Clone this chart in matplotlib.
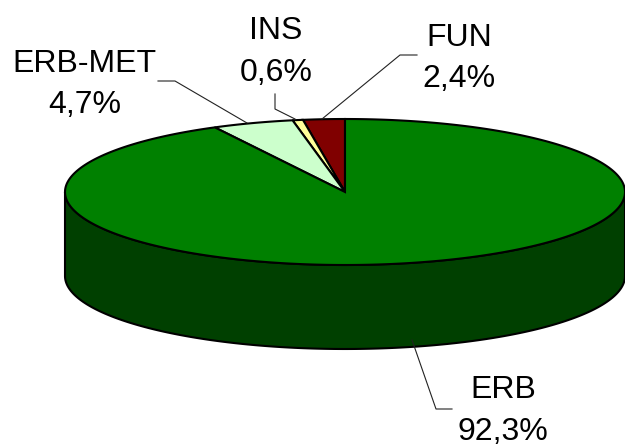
import numpy as np
import matplotlib
matplotlib.use("Agg")
import matplotlib.pyplot as plt

plt.rcParams['font.family'] = ['Liberation Sans', 'DejaVu Sans']

# data, starting at 12 o'clock and going counter-clockwise
categories = ["FUN", "INS", "ERB-MET", "ERB"]
values = [2.4, 0.6, 4.7, 92.3]
value_labels = ["2,4%", "0,6%", "4,7%", "92,3%"]
top_colors = ["#800000", "#FFFF99", "#CCFFCC", "#008000"]
side_color = "#004000"

# pie geometry in pixels
cx, cy = 345, 192
a, b = 280, 73
depth = 84

fig = plt.figure(figsize=(6.25, 4.46), dpi=100)
ax = fig.add_axes([0, 0, 1, 1])
ax.set_xlim(0, 625)
ax.set_ylim(446, 0)
ax.axis("off")

# side wall
t = np.linspace(0, np.pi, 200)
xs = cx + a * np.cos(t)
ys = cy + b * np.sin(t)
ax.fill(np.r_[xs, xs[::-1]], np.r_[ys, ys[::-1] + depth],
        facecolor=side_color, edgecolor="k", lw=1.5, zorder=1)

# top slices
start = 0.0
for v, c in zip(values, top_colors):
    end = start + v / sum(values) * 2 * np.pi
    ang = np.linspace(start, end, max(int(v * 4), 6))
    px = np.r_[cx, cx - a * np.sin(ang)]
    py = np.r_[cy, cy - b * np.cos(ang)]
    ax.fill(px, py, facecolor=c, edgecolor="k", lw=1.5, joinstyle="miter", zorder=2)
    start = end

# leader lines
ax.plot([322, 400, 417], [119, 55, 55], color="#222222", lw=0.8, zorder=3)
ax.plot([295, 275, 275], [119, 109, 94], color="#222222", lw=0.8, zorder=3)
ax.plot([247, 175, 158], [123, 81, 81], color="#222222", lw=0.8, zorder=3)
ax.plot([412, 436, 452], [340, 409, 409], color="#222222", lw=0.8, zorder=3)

# labels: x centre, name baseline, percent baseline
label_pos = {"FUN": (459, 46, 87), "INS": (276, 39, 81),
             "ERB-MET": (84.5, 72, 113), "ERB": (503, 398, 440)}
for name, pct in zip(categories, value_labels):
    x, y1, y2 = label_pos[name]
    ax.text(x, y1, name, fontsize=23, ha="center", va="baseline", color="k")
    ax.text(x, y2, pct, fontsize=23, ha="center", va="baseline", color="k")

fig.savefig("out.png", dpi=100)
